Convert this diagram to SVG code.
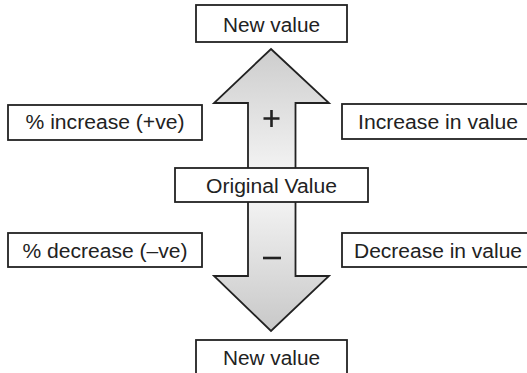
<svg xmlns="http://www.w3.org/2000/svg" width="527" height="373" viewBox="0 0 527 373">
<defs>
<linearGradient id="gUp" x1="0" y1="49" x2="0" y2="168" gradientUnits="userSpaceOnUse">
<stop offset="0" stop-color="#cdcdcd"/>
<stop offset="1" stop-color="#f2f2f2"/>
</linearGradient>
<linearGradient id="gDown" x1="0" y1="202" x2="0" y2="331" gradientUnits="userSpaceOnUse">
<stop offset="0" stop-color="#f2f2f2"/>
<stop offset="1" stop-color="#c8c8c8"/>
</linearGradient>
<style>
.box{fill:#fff;stroke:#222;stroke-width:1.8}
.arrow{stroke:#222;stroke-width:1.8;stroke-linejoin:miter}
.t{font-family:"Liberation Sans",Arial,Helvetica,sans-serif;font-size:20px;fill:#222}
.c{text-anchor:middle}
.sign{stroke:#222;stroke-width:2.6;fill:none}
</style>
</defs>
<g id="connectors">
<path class="arrow" fill="url(#gUp)" d="M271,49 L329,103 L295.5,103 L295.5,170 L248,170 L248,103 L214,103 Z"/>
<path class="arrow" fill="url(#gDown)" d="M248,200 L295.5,200 L295.5,276 L329,276 L271,331 L214,276 L248,276 Z"/>
<path class="sign" d="M263.5,118.5 H279.5 M271.5,110 V127"/>
<path class="sign" d="M263,258 H281"/>
</g>
<g id="new-value-top">
<rect class="box" x="196" y="5" width="151" height="37"/>
<text class="t c" x="271.5" y="32" textLength="97" lengthAdjust="spacingAndGlyphs">New value</text>
</g>
<g id="pct-increase">
<rect class="box" x="8" y="105" width="194" height="35"/>
<text class="t c" x="105" y="129" textLength="159" lengthAdjust="spacingAndGlyphs">% increase (+ve)</text>
</g>
<g id="increase-in-value">
<rect class="box" x="342" y="104" width="200" height="35"/>
<text class="t" x="358" y="129" textLength="160" lengthAdjust="spacingAndGlyphs">Increase in value</text>
</g>
<g id="original-value">
<rect class="box" x="175" y="168" width="193" height="34"/>
<text class="t c" x="271.5" y="192.5" textLength="131" lengthAdjust="spacingAndGlyphs">Original Value</text>
</g>
<g id="pct-decrease">
<rect class="box" x="8" y="233" width="194" height="34"/>
<text class="t c" x="105" y="258" textLength="165" lengthAdjust="spacingAndGlyphs">% decrease (–ve)</text>
</g>
<g id="decrease-in-value">
<rect class="box" x="342" y="233" width="200" height="34"/>
<text class="t" x="354" y="258" textLength="168" lengthAdjust="spacingAndGlyphs">Decrease in value</text>
</g>
<g id="new-value-bottom">
<rect class="box" x="196" y="340" width="151" height="40"/>
<text class="t c" x="271.5" y="365" textLength="97" lengthAdjust="spacingAndGlyphs">New value</text>
</g>
</svg>
